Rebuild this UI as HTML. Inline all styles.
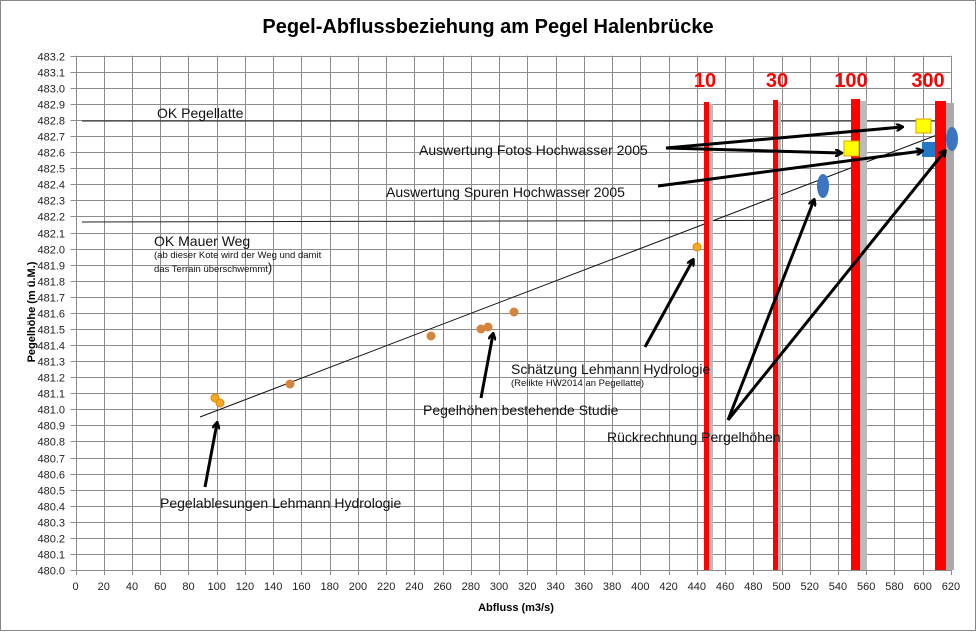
<!DOCTYPE html>
<html><head><meta charset="utf-8"><style>
html,body{margin:0;padding:0;background:#fff}
svg{display:block;font-family:"Liberation Sans",sans-serif}
</style></head><body>
<svg id="s" width="977" height="632" viewBox="0 0 977 632" xmlns="http://www.w3.org/2000/svg">
<defs>
<marker id="ah" markerWidth="8" markerHeight="8" refX="6" refY="4" orient="auto" markerUnits="userSpaceOnUse"><path d="M0,0 L7,4 L0,8" fill="none" stroke="#000" stroke-width="2.5"/></marker>
</defs>
<rect x="0.5" y="0.5" width="975" height="630" fill="#fff" stroke="#888"/>
<g id="grid" stroke="#8c8c8c" stroke-width="1"></g>
<g id="lab" font-size="11" fill="#222"></g>
<text x="488" y="33" font-size="20" font-weight="bold" text-anchor="middle">Pegel-Abflussbeziehung am Pegel Halenbrücke</text>
<text x="516" y="611" font-size="11" font-weight="bold" text-anchor="middle">Abfluss  (m3/s)</text>
<text transform="translate(35,312) rotate(-90)" font-size="11" font-weight="bold" text-anchor="middle">Pegelhöhe  (m ü.M.)</text>
<!-- horizontal reference lines -->
<line x1="82" y1="121" x2="952" y2="121" stroke="#222" stroke-width="1"/>
<line x1="82" y1="222" x2="952" y2="220" stroke="#222" stroke-width="1"/>
<!-- trend line -->
<line x1="200" y1="417" x2="950" y2="130" stroke="#111" stroke-width="1"/>
<!-- red bars with shadows -->
<rect x="709" y="104" width="4" height="466" fill="#bbb"/>
<rect x="704" y="102" width="5" height="468" fill="#f00"/>
<rect x="777" y="102" width="4" height="468" fill="#bbb"/>
<rect x="773" y="100" width="5" height="470" fill="#f00"/>
<rect x="860" y="101" width="7" height="469" fill="#bbb"/>
<rect x="851" y="99" width="9" height="471" fill="#f00"/>
<rect x="946" y="103" width="8" height="467" fill="#aaa"/>
<rect x="935" y="101" width="11" height="469" fill="#f00"/>
<g font-size="20" font-weight="bold" fill="#f00" text-anchor="middle">
<text x="705" y="87">10</text><text x="777" y="87">30</text><text x="851" y="87">100</text><text x="928" y="87">300</text>
</g>
<!-- points -->
<g fill="#d4843c">
<circle cx="290" cy="384" r="4.5"/><circle cx="431" cy="336" r="4.5"/><circle cx="481" cy="329" r="4.5"/><circle cx="488" cy="327" r="4.5"/><circle cx="514" cy="312" r="4.5"/>
</g>
<g fill="#f5a623" stroke="#e08a00" stroke-width="1">
<circle cx="215" cy="398" r="4"/><circle cx="220" cy="403" r="4"/><circle cx="697" cy="247" r="4"/>
</g>
<rect x="916" y="119" width="15" height="14" fill="#ff0" stroke="#d9a000"/>
<rect x="844" y="141" width="15" height="15" fill="#ff0" stroke="#d9a000"/>
<rect x="922" y="142" width="13" height="15" fill="#2478c8"/>
<ellipse cx="823" cy="186" rx="6" ry="12" fill="#3b74c0"/>
<ellipse cx="952" cy="139" rx="6" ry="12" fill="#3b74c0"/>
<!-- arrows -->
<g stroke="#000" stroke-width="3" fill="none" marker-end="url(#ah)">
<line x1="666" y1="148" x2="902" y2="127"/>
<line x1="666" y1="148" x2="841" y2="153"/>
<line x1="658" y1="186" x2="922" y2="151"/>
<line x1="728" y1="420" x2="814" y2="200"/>
<line x1="728" y1="420" x2="945" y2="151"/>
<line x1="481" y1="398" x2="493" y2="334"/>
<line x1="205" y1="487" x2="217" y2="423"/>
<line x1="645" y1="347" x2="693" y2="260"/>
</g>
<g fill="#111" font-size="14">
<text x="157" y="118">OK Pegellatte</text>
<text x="419" y="155">Auswertung Fotos Hochwasser 2005</text>
<text x="386" y="197">Auswertung Spuren Hochwasser 2005</text>
<text x="154" y="246">OK Mauer  Weg</text>
<text x="154" y="258" font-size="9.5">(ab dieser Kote wird der Weg und damit</text>
<text x="154" y="272" font-size="9.5">das Terrain überschwemmt<tspan font-size="13">)</tspan></text>
<text x="511" y="374">Schätzung Lehmann Hydrologie</text>
<text x="511" y="386" font-size="9.5">(Relikte HW2014 an Pegellatte)</text>
<text x="423" y="415">Pegelhöhen bestehende Studie</text>
<text x="607" y="442">Rückrechnung Pergelhöhen</text>
<text x="160" y="508">Pegelablesungen Lehmann Hydrologie</text>
</g>
</svg>
<script>
var ns="http://www.w3.org/2000/svg",g=document.getElementById('grid'),l=document.getElementById('lab');
function X(v){return 75.5+v*1.412}function Y(v){return 570-(v-480)*160.7}
function ln(a,b,c,d){var e=document.createElementNS(ns,'line');e.setAttribute('x1',a);e.setAttribute('y1',b);e.setAttribute('x2',c);e.setAttribute('y2',d);g.appendChild(e);}
function tx(x,y,t,a){var e=document.createElementNS(ns,'text');e.setAttribute('x',x);e.setAttribute('y',y);e.setAttribute('text-anchor',a);e.textContent=t;l.appendChild(e);}
for(var i=0;i<=31;i++){var x=Math.round(X(i*20))+0.5;ln(x,Y(483.2),x,Y(480)+5);tx(X(i*20),590,String(i*20),'middle');}
for(var j=0;j<=32;j++){var v=480+j/10,y=Math.round(Y(v))+0.5;ln(X(0)-5,y,X(620),y);tx(65,y+4,v.toFixed(1),'end');}
</script>
</body></html>
